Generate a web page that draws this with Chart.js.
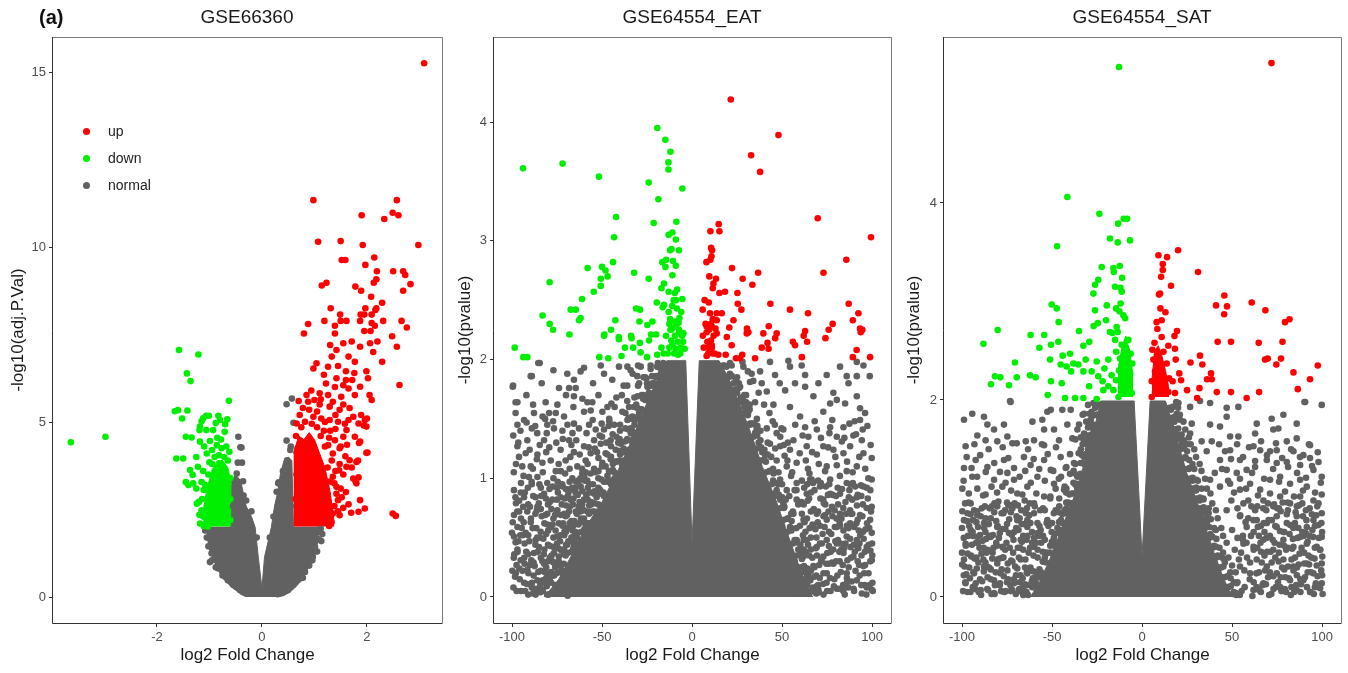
<!DOCTYPE html>
<html><head><meta charset="utf-8">
<script src="https://cdn.jsdelivr.net/npm/chart.js@4.4.1/dist/chart.umd.min.js"></script>
<style>
body{margin:0;background:#fff;width:1348px;height:673px;overflow:hidden;position:relative;font-family:"Liberation Sans",Arial,sans-serif;}
canvas{position:absolute;top:0;}
.ttl{position:absolute;top:6px;font-size:19px;line-height:22px;color:#1a1a1a;transform:translateX(-50%);white-space:nowrap;}
.tag{position:absolute;left:39px;top:5px;font-size:20px;line-height:24px;font-weight:bold;color:#111;}
.ldot{position:absolute;width:7px;height:7px;border-radius:50%;}
.ltxt{position:absolute;font-size:14px;line-height:16px;color:#222;}
</style></head>
<body>
<canvas id="c1" width="447" height="673" style="left:0px"></canvas>
<canvas id="c2" width="449" height="673" style="left:447px"></canvas>
<canvas id="c3" width="452" height="673" style="left:896px"></canvas>
<div class="tag">(a)</div>
<div class="ttl" style="left:247px">GSE66360</div>
<div class="ttl" style="left:692px">GSE64554_EAT</div>
<div class="ttl" style="left:1142px">GSE64554_SAT</div>
<div class="ldot" style="left:82.5px;top:127.5px;background:#ff0000"></div><div class="ltxt" style="left:108px;top:123px">up</div>
<div class="ldot" style="left:82.5px;top:154.5px;background:#00ee00"></div><div class="ltxt" style="left:108px;top:150px">down</div>
<div class="ldot" style="left:82.5px;top:181.5px;background:#616161"></div><div class="ltxt" style="left:108px;top:177px">normal</div>
<script>
// ---------- tick labels ----------
const p1XTicks=[-2,0,2], p1YTicks=[0,5,10,15];
const p23XTicks=[-100,-50,0,50,100];
const p2YTicks=[0,1,2,3,4];
const p3YTicks=[0,2,4];

// ---------- GSE66360 ----------
const p1Up=[[3.09,15.25],[0.98,11.34],[2.57,11.34],[1.90,10.91],[2.49,10.98],[2.60,10.91],[2.33,10.80],[1.07,10.15],[1.50,10.17],[1.92,10.06],[2.98,10.06],[1.52,9.63],[1.59,9.63],[2.14,9.70],[1.97,9.49],[2.19,9.31],[2.50,9.31],[2.69,9.31],[2.73,9.20],[2.18,9.08],[2.13,8.98],[1.14,8.90],[1.23,8.98],[2.83,8.94],[1.78,8.87],[1.89,8.75],[2.69,8.75],[2.08,8.58],[2.29,8.41],[1.31,8.25],[1.97,8.25],[2.18,8.25],[1.49,8.07],[1.88,8.07],[1.95,8.07],[2.09,8.07],[2.16,8.20],[1.19,7.89],[1.50,7.89],[1.61,7.89],[1.87,7.89],[2.09,7.83],[2.15,7.75],[2.31,7.89],[2.66,7.89],[2.76,7.70],[0.80,7.53],[0.88,7.80],[1.39,7.75],[1.39,7.53],[1.95,7.60],[2.07,7.60],[2.48,7.45],[2.57,7.15],[1.55,7.25],[1.71,7.30],[1.87,7.15],[2.06,7.25],[2.20,7.30],[2.12,7.00],[2.29,6.72],[2.62,6.06],[1.42,7.06],[1.33,6.87],[1.65,6.87],[1.77,6.72],[1.04,6.68],[0.98,6.53],[1.26,6.58],[1.45,6.60],[1.60,6.45],[1.76,6.40],[1.99,6.45],[2.02,6.25],[1.42,6.25],[1.60,6.20],[1.87,6.01],[1.65,5.96],[1.39,6.00],[1.10,5.82],[1.26,5.77],[1.51,5.72],[1.77,5.77],[2.05,5.77],[2.09,5.63],[0.85,5.77],[0.88,5.58],[1.00,5.63],[1.10,5.50],[1.29,5.44],[1.35,5.58],[1.48,5.35],[1.67,5.40],[1.74,5.15],[1.89,5.20],[1.96,5.06],[1.99,4.87],[1.84,4.96],[1.65,5.06],[1.45,5.01],[1.29,5.06],[1.13,5.10],[0.98,5.15],[0.82,5.01],[0.66,4.96],[0.72,5.20],[1.61,4.77],[1.77,4.58],[1.87,4.44],[1.99,4.12],[1.55,4.58],[1.39,4.48],[1.26,4.34],[1.48,4.25],[1.67,3.91],[1.80,3.86],[1.61,3.72],[1.48,3.80],[1.74,3.39],[1.80,3.25],[1.87,2.77],[1.96,2.53],[1.84,2.44],[1.70,2.41],[1.48,2.34],[1.35,2.39],[1.28,2.03],[2.49,2.39],[2.55,2.32],[1.35,3.44],[1.42,3.15],[1.45,2.77],[1.78,3.32],[1.84,3.42],[1.71,3.70],[2.01,4.13],[1.83,3.90],[1.59,4.02],[2.00,5.10],[1.94,4.90],[1.85,4.40],[1.10,2.20],[1.15,2.60],[1.22,2.90],[1.30,3.30],[1.25,3.70],[1.33,3.90],[1.20,4.30],[1.12,4.60],[1.05,4.85],[0.95,4.95],[0.75,4.85],[0.65,4.60],[1.38,2.60],[1.42,2.95],[1.50,3.10],[1.55,3.50],[1.40,3.60],[1.35,4.10],[1.50,4.30],[1.20,5.00],[1.05,5.30],[0.90,5.35],[0.78,5.40],[1.40,5.20],[1.55,5.50],[1.18,4.75],[1.28,4.55],[1.40,4.80],[1.60,3.00],[1.65,2.65],[1.55,2.55],[1.25,2.30],[1.20,2.60],[1.32,2.15],[1.45,2.45],[1.52,2.85],[1.38,3.25],[1.47,3.62],[1.30,4.75],[1.62,4.35],[1.58,4.95],[1.12,5.65],[0.94,5.9],[1.22,6.1],[1.55,6.05],[1.72,6.2],[1.3,7.2],[1.18,6.35],[0.7,5.6],[0.68,4.25],[0.66,3.5],[0.64,2.8]];
const p1Down=[[-3.64,4.42],[-2.98,4.58],[-1.58,7.06],[-1.21,6.93],[-1.43,6.39],[-1.36,6.17],[-0.63,5.61],[-1.66,5.31],[-1.60,5.34],[-1.42,5.33],[-1.52,5.10],[-1.12,5.11],[-1.15,5.02],[-1.06,5.18],[-1.01,5.18],[-0.83,5.18],[-0.80,5.06],[-0.66,5.08],[-0.88,4.97],[-0.70,4.94],[-1.18,4.87],[-1.19,4.77],[-1.06,4.77],[-0.93,4.77],[-0.71,4.72],[-1.45,4.58],[-1.34,4.56],[-1.18,4.44],[-0.99,4.46],[-0.86,4.34],[-0.77,4.25],[-1.63,3.96],[-1.50,3.96],[-1.25,4.00],[-1.05,4.10],[-1.37,3.63],[-1.22,3.72],[-1.32,3.49],[-1.45,3.29],[-1.40,3.20],[-1.31,3.25],[-1.15,3.29],[-1.11,3.06],[-1.20,2.72],[-1.24,2.67],[-1.15,2.48],[-1.11,2.03],[-1.03,2.01],[-1.12,2.30],[-1.14,2.80],[-1.08,3.20],[-1.02,3.50],[-0.95,3.80],[-0.90,4.00],[-0.82,4.05],[-0.72,4.00],[-0.65,3.90],[-0.60,3.40],[-0.60,2.80],[-0.60,2.20],[-0.90,3.60],[-0.75,3.70],[-0.68,4.30],[-0.95,4.20],[-1.18,2.10],[-1.05,2.60],[-1.0,3.85],[-0.85,4.55],[-0.62,4.15],[-0.78,4.5],[-1.1,4.3],[-1.12,3.6],[-1.25,3.1],[-1.19,2.35]];
const p1Normal=[[-0.45,4.58],[-0.39,4.27],[-0.46,3.84],[-0.38,3.84],[-0.48,3.53],[-0.45,3.29],[-0.36,3.31],[0.47,5.51],[0.57,5.67],[0.47,4.47],[0.55,4.30],[0.48,3.91],[0.31,3.25],[0.28,3.01],[1.10,1.87],[1.00,1.54],[1.00,1.34],[0.97,1.15],[-0.96,1.25],[-0.80,0.96],[-0.93,1.53],[0.60,4.98],[0.54,4.20],[0.32,3.28],[-0.41,4.28],[-0.30,2.76],[-0.29,2.38],[-0.83,0.82],[1.01,1.44],[1.15,1.80],[0.40,3.60],[0.45,3.20],[0.50,2.90],[0.55,2.60],[-0.50,3.00],[-0.55,2.60],[-0.56,2.20],[-1.05,1.70],[-1.02,1.45],[-0.95,1.05],[-0.88,0.85],[-0.75,0.62],[-0.65,0.48],[-0.55,0.35],[-0.42,0.20],[-0.30,0.10],[0.30,0.08],[0.45,0.18],[0.60,0.35],[0.70,0.50],[0.82,0.72],[0.90,0.90],[0.96,1.05],[1.05,1.30],[1.08,1.65],[1.12,1.95],[-1.08,1.9],[-0.99,1.0],[-0.7,0.58],[-0.5,0.3],[0.5,0.2],[0.78,0.55],[0.93,1.2],[1.13,1.6],[-0.35,2.9],[0.22,2.3],[0.15,1.7],[-0.1,1.7],[-0.2,2.45]];
const p1CoreX=[-1.06,-1.04,-1.0,-0.9,-0.8,-0.7,-0.6,-0.58,-0.5,-0.45,-0.4,-0.36,-0.3,-0.2,-0.13,-0.07,0,0.05,0.12,0.18,0.24,0.3,0.35,0.42,0.5,0.57,0.6,0.7,0.8,0.9,1.0,1.05,1.1];
const p1CoreTop=[2.0,2.0,2.0,2.0,2.0,2.0,2.0,3.3,3.5,3.4,3.3,3.0,2.6,2.3,2.0,1.15,0.25,1.15,1.6,2.0,2.6,3.0,3.5,3.9,4.0,3.9,2.0,2.0,2.0,2.0,2.0,2.0,2.0];
const p1CoreBottom=[1.95,1.6,1.3,0.95,0.65,0.45,0.3,0.28,0.18,0.13,0.06,0.04,0,0,0,0,0,0,0,0,0,0,0,0.03,0.1,0.18,0.22,0.37,0.6,0.85,1.12,1.4,1.95];
const p1UpCoreX=[0.6,0.7,0.8,0.9,1.0,1.1,1.2,1.3,1.38];
const p1UpCoreTop=[4.1,4.6,4.5,4.7,4.5,4.1,3.7,3.0,2.1];
const p1DownCoreX=[-1.12,-1.05,-0.95,-0.85,-0.75,-0.65,-0.58];
const p1DownCoreTop=[2.4,3.1,3.6,3.9,3.9,3.7,3.2];

// ---------- GSE64554_EAT ----------
const eatUp=[[21.5,4.19],[48.0,3.89],[32.8,3.72],[37.8,3.58],[69.8,3.19],[99.4,3.03],[14.8,3.14],[10.2,3.08],[15.2,3.08],[10.6,2.94],[11.1,2.92],[10.8,2.87],[8.0,2.82],[10.2,2.84],[22.2,2.77],[85.7,2.84],[36.7,2.73],[73,2.73],[9.6,2.7],[13.3,2.68],[28.1,2.68],[11.9,2.64],[33.5,2.63],[11.5,2.6],[15.2,2.56],[18.3,2.57],[25.2,2.56],[9.3,2.48],[25.4,2.47],[43.5,2.47],[87,2.47],[27.4,2.42],[5.9,2.42],[54.4,2.42],[10,2.39],[13.7,2.39],[16.5,2.39],[64.4,2.39],[92.4,2.39],[11.5,2.34],[13.7,2.33],[23,2.33],[89.3,2.33],[8.1,2.28],[10.9,2.28],[13,2.26],[20.7,2.27],[30.5,2.26],[42.6,2.28],[78.1,2.3],[93.3,2.26],[94.6,2.25],[47,2.22],[62.8,2.24],[75.9,2.25],[39.6,2.22],[31.3,2.23],[8.1,2.23],[10.5,2.16],[9,2.1],[8.1,2.03],[11.4,2.05],[10.9,2.12],[13.7,2.22],[14.6,2.04],[18.7,2.04],[19.3,2.19],[22,2.12],[24.4,2.01],[26.6,2.01],[27.9,2.04],[30.4,2.22],[35,2.01],[38.7,2.1],[41.9,2.14],[42.5,2.09],[46.2,2.18],[56,2.15],[57.2,2.12],[61,2.02],[62,2.2],[63.9,2.15],[74.1,2.18],[89.3,2.02],[91.4,2.08],[93.7,2.23],[98.9,2.02],[8.5,2.15],[9.5,2.25],[11,2.1],[12,2.2],[9,2.05],[10.5,2.3],[7.5,2.3],[6.5,2.1],[12.5,2.05],[7,2.5],[6,2.2]];
const eatDown=[[-93.9,3.61],[-71.9,3.65],[-51.7,3.54],[-19.3,3.95],[-14.8,3.85],[-12.0,3.75],[-13.1,3.66],[-13.1,3.6],[-24.1,3.49],[-5.4,3.44],[-18.7,3.35],[-42.2,3.2],[-21.3,3.15],[-8.7,3.16],[-43.3,3.03],[-13.0,3.05],[-10.9,3.07],[-9.0,3.01],[-12.2,2.92],[-11.4,2.93],[-7.3,2.92],[-16.5,2.82],[-14.4,2.84],[-10.6,2.83],[-14.8,2.78],[-9.0,2.79],[-43.9,2.82],[-58.0,2.77],[-50.0,2.78],[-48.1,2.75],[-32.2,2.73],[-46.9,2.7],[-50.7,2.68],[-79.1,2.65],[-24.1,2.68],[-10.9,2.71],[-50.7,2.62],[-15.6,2.64],[-17,2.6],[-13,2.57],[-8.3,2.59],[-9.6,2.56],[-54.6,2.57],[-61.1,2.51],[-5.4,2.51],[-10.2,2.5],[-19.6,2.48],[-15.6,2.46],[-67.4,2.42],[-64.6,2.42],[-31.1,2.43],[-28.9,2.42],[-16.3,2.44],[-8.5,2.43],[-83.0,2.37],[-61.9,2.35],[-62.8,2.33],[-79.1,2.3],[-77.2,2.25],[-42.6,2.33],[-29.2,2.32],[-22,2.32],[-24.8,2.29],[-12.2,2.34],[-12.6,2.3],[-9.4,2.32],[-7.5,2.31],[-10.4,2.27],[-7.2,2.25],[-11.5,2.25],[-68.1,2.21],[-45.0,2.25],[-48.7,2.21],[-33.9,2.2],[-20.0,2.21],[-22.8,2.21],[-40.7,2.19],[-4.8,2.22],[-98.5,2.1],[-93.7,2.02],[-91.5,2.02],[-51.5,2.02],[-48.9,2.2],[-46.5,2.01],[-40.6,2.17],[-39.2,2.03],[-37.3,2.1],[-33.6,2.18],[-32.7,2.1],[-29,2.14],[-28.6,2.06],[-23.9,2.16],[-25,2.02],[-19.4,2.04],[-17,2.1],[-15.7,2.05],[-12.6,2.1],[-11.5,2.16],[-9.1,2.09],[-7.8,2.04],[-6.3,2.1],[-4.1,2.09],[-7.4,2.22],[-5,2.15],[-11,2.12],[-9.5,2.2],[-8,2.15],[-6.5,2.05],[-10,2.05],[-12,2.25],[-8.5,2.3],[-7,2.35],[-5.5,2.2],[-13.5,2.05],[-14.5,2.2],[-6,2.4],[-11,2.45],[-9,2.5],[-13,2.4]];
const eatNormalLeft=[
[-84.6,1.97],[-77,1.91],[-69.3,1.88],[-61.9,1.9],[-60,1.93],[-50.7,1.95],[-48.9,1.88],[-40.6,1.94],[-35.9,1.94],[-34.1,1.91],[-28.5,1.94],[-23,1.95],[-19.3,1.94],[-17.4,1.88],[-30.4,1.86],[-44.3,1.83],[-65.6,1.83],[-89.6,1.86],[-83.5,1.8],[-99.4,1.78],[-73.9,1.76],[-68.3,1.76],[-64.6,1.76],[-29.4,1.8],[-24.8,1.77],[-85.4,1.97],[-89,1.86],[-55,1.8],[-38,1.78],[-26,1.85],[-21,1.8],
[-98,1.64],[-98,1.55],[-88.3,1.62],[-87.8,1.55],[-81.3,1.64],[-79.4,1.55],[-74.8,1.62],[-75.7,1.55],[-71.1,1.52],[-65.6,1.69],[-65.9,1.6],[-60.9,1.67],[-58.1,1.64],[-55.4,1.64],[-56.3,1.57],[-60,1.56],[-49.8,1.56],[-44.8,1.63],[-38.7,1.56],[-32.2,1.6],[-33.1,1.52],[-29.4,1.55],[-25.7,1.52],[-23,1.64],[-21.1,1.72],[-99.6,1.77],[-97,1.64],[-92,1.7],[-52,1.7],[-47,1.6],[-42,1.68],[-36,1.65],[-27,1.7],[-70,1.7],[-83,1.52],
[-97,1.45],[-93.3,1.49],[-80.4,1.45],[-76.7,1.42],[-65.6,1.46],[-62.8,1.42],[-57.2,1.45],[-43.3,1.45],[-48.9,1.41],[-53.5,1.41],[-35.9,1.49],[-28.5,1.46],[-97,1.27],[-91.5,1.32],[-82.2,1.32],[-68.3,1.32],[-60,1.27],[-54.4,1.32],[-50.7,1.29],[-45.2,1.32],[-39.6,1.29],[-32.2,1.34],[-86,1.38],[-72,1.4],[-40,1.4],[-34,1.42],[-31,1.3],[-46,1.48],[-89,1.42],[-67,1.28],
[-96.1,1.18],[-92.4,1.21],[-94.3,1.1],[-89.6,1.1],[-90.6,1.01],[-85.9,1.2],[-83.1,1.13],[-85.9,1.01],[-78.5,1.15],[-75.7,1.06],[-73,1.24],[-70.2,1.15],[-65.6,1.22],[-63.7,1.1],[-66.5,1.0],[-59.1,1.15],[-56.3,1.21],[-54.4,1.08],[-48,1.21],[-49.8,1.13],[-42.4,1.24],[-46.1,1.06],[-37.8,1.15],[-35,1.24],[-34.1,1.07],[-30.4,1.18],[-81,1.22],[-68,1.08],[-61,1.04],[-52,1.17],[-44,1.12],[-40,1.04],[-99,1.05],[-77,1.0],
[-80.4,0.96],[-41.5,0.99],[-61.9,0.93],[-71.9,0.93],[-98.9,0.9],[-97.8,0.79],[-93.3,0.84],[-86.9,0.84],[-85.9,0.76],[-82.2,0.87],[-77.6,0.82],[-73,0.84],[-67.4,0.82],[-60,0.82],[-54.4,0.87],[-50.7,0.76],[-47,0.84],[-89,0.95],[-75,0.92],[-65,0.9],[-57,0.95],[-52,0.92],[-45,0.95],[-91,0.78],[-80,0.78],[-70,0.77],[-63,0.76],[-56,0.78],[-95,0.96],[-84,0.92],[-68,0.97],
[-91.5,0.72],[-80.4,0.7],[-74.8,0.73],[-70.2,0.68],[-64.6,0.72],[-57.2,0.7],[-97,0.59],[-98.9,0.51],[-92.4,0.54],[-89.6,0.63],[-84.1,0.55],[-78.5,0.59],[-74.8,0.51],[-69.3,0.58],[-65.6,0.51],[-100,0.54],[-95,0.66],[-87,0.7],[-82,0.62],[-77,0.66],[-72,0.6],[-67,0.64],[-94,0.52],[-86,0.5],[-81,0.53],[-71,0.52],[-96,0.72],[-84,0.74],
[-86.9,0.48],[-97,0.4],[-95.2,0.31],[-87.8,0.37],[-82.2,0.28],[-76.7,0.37],[-73,0.26],[-99,0.33],[-93,0.45],[-91,0.36],[-90,0.27],[-85,0.42],[-84,0.33],[-80,0.44],[-79,0.33],[-75,0.45],[-71,0.4],[-98,0.46],[-93,0.28],[-88,0.29],[-82,0.4],[-77,0.29],[-74,0.34],
[-97.9,0.2],[-91.5,0.23],[-93.3,0.12],[-85.9,0.14],[-79.4,0.2],[-80.7,0.09],[-98.3,0.17],[-95,0.05],[-89,0.08],[-88,0.18],[-84,0.22],[-83,0.06],[-96,0.24],[-91,0.02],[-86,0.04],[-81,0.16]];
const eatNormalLeft2=[[-99.2,0.08],[-97.5,0.27],[-96.4,0.47],[-99.6,0.63],[-98.1,0.84],[-95.7,0.15],[-94.6,0.58],[-93.8,0.76],[-92.7,0.05],[-92.1,0.38],[-91.2,0.92],[-90.4,0.47],[-89.5,0.66],[-88.9,0.12],[-88.2,0.85],[-87.4,0.26],[-86.5,0.58],[-85.7,0.38],[-84.8,0.95],[-84.2,0.11],[-83.5,0.68],[-82.6,0.49],[-81.9,0.21],[-81.2,0.83],[-80.3,0.61],[-79.6,0.02],[-78.8,0.43],[-78.1,0.74],[-77.3,0.93],[-76.6,0.18],[-75.8,0.56],[-75.1,0.82],[-74.3,0.41],[-73.6,0.05],[-72.8,0.69],[-72.1,0.95],[-71.4,0.22],[-70.6,0.83],[-69.8,0.57],[-69.1,0.01],[-68.4,0.72],[-67.6,0.91],[-66.9,0.25],[-66.2,0.78],[-65.4,0.64],[-64.7,0.88],[-63.9,0.5],[-63.2,0.98],[-62.5,0.8],[-61.7,0.66],[-60.9,0.89],[-60.2,0.73],[-59.4,0.98],[-58.7,0.86],[-57.9,0.92],[-57.1,0.62],[-98.7,0.36],[-97.1,0.72],[-95.1,0.88],[-93.2,0.33],[-90.9,0.2],[-89.1,0.97],[-86.9,0.02],[-85.1,0.79],[-83.1,0.3],[-80.8,0.15],[-79.2,0.91],[-77.7,0.3],[-76.1,0.69],[-74.6,0.97],[-73.1,0.52],[-71.7,0.62],[-70.2,0.35],[-68.7,0.47],[-67.2,0.08],[-65.7,0.42],[-64.2,0.2],[-62.8,0.34],[-61.3,0.48],[-59.8,0.57],
[-99.3,1.36],[-97.8,1.12],[-95.3,1.4],[-93.6,1.02],[-91.9,1.47],[-90.2,1.24],[-88.4,1.08],[-87.1,1.44],[-84.6,1.28],[-82.9,1.05],[-80.7,1.38],[-79.3,1.26],[-77.2,1.48],[-75.4,1.3],[-74.1,1.12],[-71.8,1.33],[-70.5,1.04],[-69.2,1.45],[-67.6,1.18],[-64.3,1.32],[-62.4,1.2],[-61.1,1.08],[-58.6,1.38],[-57.4,1.26],[-55.2,1.49],[-52.8,1.22],[-51.3,1.36],[-47.6,1.3],[-46.3,1.44],[-44.1,1.37],[-96.5,1.3],[-86.2,1.16],[-81.6,1.5],[-72.9,1.06],[-66.4,1.38],[-59.9,1.02],[-53.9,1.05],[-50.2,1.46],
[-79,0.15],[-76,0.25],[-74,0.3],[-71,0.36],[-70,0.44],[-67,0.5],[-65,0.55],[-63,0.62],[-60,0.66],[-58,0.72],[-56,0.8],[-53,0.84],[-51,0.9],[-49,0.97],[-47,1.02],[-44,1.07],[-42,1.14],[-40,1.2],[-38,1.25],[-36,1.33],[-34,1.38],[-32,1.45],[-30,1.52],[-28,1.58],[-26,1.66],[-24,1.72],[-22,1.8],[-20,1.86],[-18,1.93],[-16,1.97],[-62,0.72],[-55,0.88],[-48,1.1],[-41,1.3],[-35,1.5],[-28,1.7],[-66,0.6],[-58,0.82],[-52,1.0],[-45,1.18],[-37,1.42],[-31,1.62],[-25,1.8],
[-83,0.05],[-81,0.25],[-78,0.35],[-76,0.1],[-73,0.4],[-72,0.2],[-70,0.55],[-68,0.62],[-66,0.4],[-64,0.7],[-61,0.78],[-59,0.6],[-57,0.88],[-55,0.95],[-54,0.72],[-52,1.06],[-50,1.1],[-49,0.85],[-47,1.2],[-45,1.27],[-43,1.0],[-42,1.35],[-40,1.45],[-39,1.12],[-37,1.55],[-35,1.6],[-33,1.3],[-32,1.68],[-30,1.78],[-29,1.42],[-27,1.85],[-25,1.55],[-23,1.92],[-21,1.65],[-19,1.97],[-17,1.78],[-80,0.3],[-77,0.5],[-74,0.62],[-71,0.7],[-69,0.85],[-65,0.92],[-62,1.0],[-58,1.12],[-54,1.25],[-50,1.35],[-46,1.5],[-43,1.6],[-39,1.7],[-36,1.78],[-33,1.88],[-30,1.95]];
const eatNormalLeft3=[[-99.8,0.22],[-98.9,0.69],[-97.4,0.05],[-96.9,0.38],[-96.0,0.81],[-95.4,0.52],[-94.2,0.22],[-93.5,0.63],[-92.9,0.88],[-91.7,0.11],[-91.0,0.52],[-90.0,0.76],[-89.3,0.31],[-88.6,0.58],[-87.7,0.07],[-87.0,0.44],[-86.2,0.73],[-85.4,0.21],[-84.5,0.5],[-83.8,0.85],[-82.9,0.14],[-82.3,0.36],[-81.5,0.69],[-80.5,0.02],[-79.9,0.56],[-79.0,0.8],[-78.4,0.21],[-77.5,0.61],[-76.9,0.42],[-75.9,0.03],[-75.4,0.7],[-74.5,0.88],[-73.8,0.21],[-73.3,0.47],[-72.4,0.78],[-71.6,0.1],[-70.9,0.55],[-70.1,0.91],[-69.4,0.69],[-68.6,0.88],[-67.9,0.76],[-66.6,0.92],[-65.9,0.83],[-64.4,0.97],[-63.5,0.86],[-62.1,0.93],[-61.4,0.99],[-59.1,1.05],[-58.2,0.98],[-56.4,1.04],
[-84.2,0.04],[-86.1,0.07],[-88.3,0.03],[-78.2,0.12],[-81.1,0.13],[-84.1,0.11],[-75.3,0.2],[-78.4,0.19],[-71.2,0.28],[-73.1,0.27],[-76.2,0.29],[-67.1,0.38],[-69.2,0.37],[-72.3,0.39],[-64.2,0.45],[-66.1,0.46],[-69.3,0.44],[-61.3,0.55],[-63.2,0.54],[-66.4,0.56],[-58.1,0.62],[-60.2,0.63],[-63.1,0.61],[-55.3,0.72],[-57.2,0.71],[-60.4,0.73],[-52.1,0.78],[-54.3,0.79],[-57.1,0.77],[-49.2,0.88],[-51.3,0.87],[-54.2,0.89],[-45.1,0.98],[-47.2,0.97],[-50.3,0.99],[-43.2,1.05],[-45.3,1.06],[-40.1,1.15],[-42.3,1.14],[-45.2,1.16],[-38.1,1.22],[-40.2,1.23],[-35.1,1.32],[-37.3,1.31],[-40.2,1.33],[-33.2,1.4],[-35.3,1.41],[-30.1,1.5],[-32.2,1.49],[-35.2,1.51],[-28.3,1.58],[-30.2,1.59],[-25.1,1.68],[-27.2,1.67],[-30.3,1.69],[-22.2,1.78],[-24.3,1.77],[-20.1,1.85],[-22.2,1.86],[-25.3,1.84],[-17.2,1.93],[-19.1,1.94]];
const eatNormalRight=[
[21.1,1.97],[28.5,1.94],[33.1,1.88],[37.8,1.9],[43.3,1.98],[46.1,1.87],[53.5,1.99],[54.4,1.94],[60.9,1.95],[62.8,1.87],[70.2,1.8],[74.8,1.87],[82.2,1.94],[85.9,1.86],[86.9,1.8],[91.5,1.86],[95.2,1.95],[98.7,1.86],[91.5,1.98],[26.7,1.77],[32.2,1.81],[38.7,1.8],[41.5,1.73],[48.7,1.8],[51.7,1.74],[57.2,1.8],[62.8,1.77],[67.4,1.69],[78.5,1.72],[80.4,1.66],[91.5,1.69],[85,1.63],[22,1.72],[27.6,1.64],[35,1.64],[45.2,1.62],[54.4,1.6],[60,1.52],[72.9,1.56],[76.7,1.63],[93.3,1.59],[96.1,1.55],[93.3,1.49],
[32.2,1.46],[35.9,1.41],[41.5,1.42],[47,1.38],[50.7,1.41],[56.3,1.32],[62.8,1.43],[64.6,1.35],[69.3,1.41],[76.7,1.43],[80.4,1.35],[84.1,1.43],[89.6,1.36],[94.3,1.32],[99.8,1.17],[95.2,1.21],[87.8,1.27],[84.1,1.21],[78.5,1.24],[72.9,1.27],[69.3,1.2],[63.7,1.27],[54.4,1.24],[48.9,1.27],[43.3,1.29],[40.6,1.2],[47,1.15],[52.6,1.1],[58.1,1.13],[64.4,1.08],[74.8,1.1],[80.4,1.11],[85.9,1.06],[91.5,1.1],[35.9,1.1],[32.2,1.24],[30.4,1.32],
[99.8,0.99],[95.2,0.93],[90.6,0.93],[91.5,0.84],[85.9,0.96],[82.2,0.87],[76.7,0.99],[76.7,0.87],[71.1,0.93],[72.9,0.82],[65.6,0.99],[63.7,0.87],[58.1,0.96],[58.1,0.82],[52.6,0.9],[48.9,0.99],[45.2,0.87],[50.7,0.79],[99.8,0.76],[98.9,0.65],[93.3,0.69],[87.8,0.73],[87.8,0.62],[82.2,0.7],[80.4,0.59],[74.8,0.65],[69.3,0.7],[67.4,0.59],[61.9,0.65],[56.3,0.7],[54.4,0.59],
[99.8,0.54],[97,0.42],[99.8,0.31],[95.2,0.26],[99.8,0.06],[91.5,0.48],[89.6,0.34],[91.5,0.14],[85.9,0.51],[84.1,0.37],[85.9,0.2],[80.4,0.45],[78.5,0.28],[80.4,0.07],[74.8,0.48],[72.9,0.34],[74.8,0.2],[69.3,0.42],[67.4,0.26],[69.3,0.09],[63.7,0.48],[61.9,0.34],[63.7,0.17],[60,0.03],[58.1,0.48],[56.3,0.31],[100.4,0.05],[63.7,0.03],
[70,0.1],[72,0.3],[75,0.05],[77,0.38],[79,0.15],[82,0.3],[84,0.05],[87,0.25],[88,0.42],[92,0.3],[94,0.1],[96,0.38],[98,0.2],[100,0.45],[66,0.5],[71,0.45],[73,0.2],[81,0.48],[86,0.12],[90,0.05],[93,0.45],[97,0.08],[99,0.3],[76,0.28],[83,0.4],[69,0.18],
[62,0.78],[66,0.72],[68,0.9],[71,0.6],[74,0.78],[78,0.68],[80,0.85],[84,0.75],[86,0.6],[89,0.82],[92,0.65],[95,0.55],[97,0.75],[99,0.9],[70,0.98],[76,0.55],[82,0.62],[88,0.95],[94,0.85],[64,0.95],[58,0.9],[73,0.68],
[18,1.95],[21,1.88],[23,1.8],[25,1.72],[27,1.68],[29,1.6],[31,1.53],[33,1.46],[35,1.38],[37,1.3],[39,1.22],[41,1.14],[43,1.06],[45,0.98],[47,0.9],[49,0.82],[51,0.75],[53,0.66],[55,0.58],[57,0.48],[59,0.4],[61,0.32],[63,0.24],[65,0.15],[67,0.08],[26,1.8],[32,1.62],[38,1.4],[44,1.18],[50,0.95],[56,0.72],[62,0.48],[68,0.25],[30,1.7],[36,1.5],[42,1.3],[48,1.05],[54,0.85],[60,0.6],[66,0.4]];
const eatNormalRight2=[[100.2,0.12],[99.1,0.39],[98.4,0.58],[97.6,0.83],[96.8,0.02],[96.1,0.27],[95.3,0.49],[94.6,0.68],[93.8,0.94],[93.1,0.18],[92.3,0.41],[91.6,0.77],[90.8,0.22],[90.1,0.59],[89.3,0.96],[88.6,0.13],[87.8,0.49],[87.1,0.84],[86.3,0.31],[85.6,0.7],[84.8,0.02],[84.1,0.56],[83.3,0.91],[82.6,0.21],[81.8,0.38],[81.1,0.78],[80.3,0.66],[79.6,0.47],[78.8,0.09],[78.1,0.86],[77.3,0.53],[76.6,0.16],[75.8,0.72],[75.1,0.37],[74.3,0.93],[73.6,0.59],[72.8,0.11],[72.1,0.45],[71.3,0.83],[70.6,0.27],[69.8,0.63],[69.1,0.5],[68.3,0.04],[67.6,0.74],[66.8,0.33],[66.1,0.88],[65.3,0.58],[64.6,0.2],[63.8,0.66],[63.1,0.38],[62.3,0.92],[61.6,0.52],[60.8,0.8],[97.2,0.62],[95.8,0.1],[94.1,0.35],[92.6,0.56],[89.8,0.44],[88.1,0.7],[86.7,0.08],[85.2,0.45],[83.7,0.27],[82.1,0.6],[80.7,0.18],[79.2,0.73],[77.8,0.29],[76.2,0.95],[74.7,0.12],[73.2,0.79],[71.7,0.31],[70.2,0.06],[68.7,0.41],[67.2,0.96],[65.7,0.14],[64.2,0.81],[62.7,0.21],
[99.2,1.28],[97.4,1.44],[96.2,1.08],[94.8,1.41],[92.9,1.18],[91.1,1.37],[89.2,1.05],[87.4,1.46],[86.1,1.14],[83.2,1.31],[82.1,1.02],[79.6,1.18],[77.9,1.49],[75.6,1.26],[73.9,1.06],[71.6,1.34],[70.4,1.12],[68.1,1.48],[66.7,1.22],[65.2,1.04],[61.4,1.36],[59.8,1.21],[57.3,1.45],[55.6,1.05],[53.2,1.3],[51.4,1.19],[49.7,1.42],[46.2,1.25],[44.8,1.48],[97.9,1.0],[90.3,1.48],[84.6,1.34],[76.3,1.38],[63.2,1.15],
[69,0.03],[66,0.22],[64,0.1],[62,0.4],[60,0.2],[58,0.58],[57,0.3],[55,0.7],[53,0.45],[52,0.82],[50,0.6],[48,0.95],[47,0.7],[45,1.08],[43,0.82],[42,1.2],[40,0.95],[38,1.32],[37,1.05],[35,1.45],[34,1.18],[32,1.58],[30,1.35],[29,1.7],[27,1.48],[25,1.85],[24,1.6],[22,1.95],[20,1.78],[65,0.35],[63,0.55],[61,0.7],[59,0.78],[57,0.9],[55,1.02],[53,1.15],[51,1.28],[49,1.35],[46,1.45],[43,1.55],[40,1.62],[37,1.72],[34,1.82],[31,1.9],[28,1.98]];
const eatNormalRight3=[[100.1,0.35],[99.4,0.72],[98.6,0.1],[98.1,0.44],[97.1,0.92],[96.4,0.57],[95.6,0.2],[94.9,0.78],[94.3,0.03],[93.4,0.52],[92.8,0.27],[92.0,0.86],[91.3,0.62],[90.4,0.38],[89.7,0.07],[89.0,0.7],[88.3,0.33],[87.4,0.9],[86.9,0.58],[86.0,0.16],[85.2,0.8],[84.5,0.41],[83.9,0.1],[83.0,0.66],[82.4,0.45],[81.5,0.07],[80.9,0.92],[80.0,0.3],[79.3,0.59],[78.4,0.4],[77.7,0.76],[76.9,0.05],[76.0,0.43],[75.5,0.86],[74.6,0.28],[73.9,0.69],[73.0,0.02],[72.5,0.53],[71.5,0.96],[70.9,0.16],[70.0,0.72],[69.4,0.35],[68.5,0.57],[67.9,0.17],[66.9,0.61],[66.4,0.99],[65.0,0.83],[64.4,0.44],[62.5,0.63],[61.0,0.98],
[17.2,1.95],[19.1,1.94],[20.2,1.85],[22.1,1.86],[24.3,1.84],[24.2,1.75],[26.1,1.76],[26.3,1.65],[28.2,1.66],[30.1,1.64],[29.2,1.55],[31.3,1.56],[32.1,1.45],[34.2,1.46],[36.3,1.44],[34.1,1.35],[36.2,1.36],[36.1,1.25],[38.3,1.26],[40.2,1.24],[38.2,1.15],[40.1,1.16],[41.2,1.05],[43.1,1.06],[45.3,1.04],[44.2,0.95],[46.1,0.96],[46.3,0.85],[48.2,0.86],[50.1,0.84],[49.2,0.75],[51.3,0.76],[51.1,0.65],[53.2,0.66],[55.3,0.64],[53.1,0.55],[55.2,0.56],[56.1,0.45],[58.3,0.46],[60.2,0.44],[58.2,0.35],[60.1,0.36],[60.3,0.25],[62.2,0.26],[64.1,0.24],[63.2,0.15],[65.1,0.16],[66.2,0.05],[68.1,0.06],[70.3,0.04]];
const eatCoreX=[-82,-74,-68,-62,-56,-50,-45,-40,-35,-30,-26,-22,-18,-14,-3.5,0,4,15,19,23,27,31,35,39,43,47,51,55,59,63,67];
const eatCoreTop=[0,0.15,0.32,0.5,0.66,0.8,0.95,1.1,1.27,1.45,1.6,1.74,1.87,1.99,1.99,0.45,1.99,1.99,1.88,1.75,1.6,1.45,1.28,1.1,0.95,0.8,0.62,0.45,0.28,0.12,0];

// ---------- GSE64554_SAT ----------
const satUp=[[71.9,5.42],[20,3.52],[9.1,3.47],[13.9,3.45],[11.5,3.38],[11.5,3.32],[10.6,3.25],[31.1,3.3],[16.1,3.16],[10,3.08],[9.4,3.07],[45.7,3.06],[41.1,2.96],[47.2,2.95],[45.6,2.87],[60.9,2.99],[68.5,2.91],[10.2,2.93],[13,2.89],[10.9,2.81],[8.1,2.79],[8.5,2.72],[19.4,2.7],[18,2.65],[10.9,2.64],[79.4,2.79],[81.9,2.82],[6.9,2.58],[5.7,2.51],[8.3,2.46],[11.9,2.49],[14.6,2.55],[18.3,2.52],[6.3,2.41],[10,2.37],[13.7,2.37],[7.2,2.29],[10.9,2.25],[15,2.22],[5.4,2.19],[9.1,2.17],[12.8,2.15],[17,2.19],[18.7,2.41],[20.7,2.27],[21.7,2.2],[7.2,2.08],[10.9,2.07],[14.6,2.08],[18.3,2.07],[5.4,2.03],[25,2.1],[26.9,2.38],[30.6,2.02],[31.9,2.12],[32.2,2.45],[33.5,2.36],[36.1,2.21],[38.3,2.27],[38.7,2.21],[41.5,2.08],[42,2.59],[49.4,2.59],[49.4,2.08],[58.1,2.02],[64.8,2.58],[65,2.08],[68.3,2.41],[69.8,2.42],[74.6,2.36],[77.2,2.42],[78,2.59],[84.1,2.28],[86.5,2.11],[93.3,2.21],[97.6,2.35]];
const satDown=[[-12.8,5.38],[-41.5,4.06],[-23.7,3.89],[-13.3,3.79],[-10.2,3.84],[-8.3,3.84],[-17.8,3.64],[-13.5,3.6],[-6.7,3.62],[-47.2,3.56],[-22.4,3.35],[-15.9,3.34],[-15.7,3.3],[-12.4,3.36],[-11.1,3.24],[-24.3,3.22],[-26.1,3.17],[-27,3.08],[-15,3.15],[-12,3.14],[-11.3,3.1],[-50.2,2.97],[-47.4,2.93],[-26.1,2.91],[-19.6,2.96],[-11.9,2.98],[-14.4,2.93],[-12.6,2.9],[-10.4,2.86],[-9.4,2.83],[-46.3,2.79],[-20,2.81],[-26.9,2.75],[-24.6,2.78],[-14.1,2.74],[-80.2,2.71],[-61.9,2.66],[-54.3,2.66],[-35,2.7],[-17.8,2.69],[-13.5,2.69],[-88.1,2.57],[-83.9,2.16],[-81.7,2.24],[-78.7,2.23],[-73.9,2.15],[-70.6,2.38],[-69.6,2.23],[-62.2,2.25],[-59.1,2.23],[-57,2.53],[-51.1,2.41],[-50.6,2.56],[-46.5,2.59],[-52.4,2.05],[-50.6,2.19],[-44.6,2.17],[-44.1,2.45],[-42.8,2.02],[-41.9,2.34],[-39.4,2.29],[-37.2,2.02],[-35.4,2.36],[-32.6,2.02],[-32.6,2.55],[-31.3,2.41],[-32.6,2.29],[-29.3,2.59],[-28,2.29],[-29.4,2.14],[-25.2,2.39],[-25.2,2.01],[-24.3,2.24],[-21.5,2.1],[-20.9,2.32],[-18.7,2.14],[-18.7,2.41],[-16.5,2.68],[-16.9,2.25],[-15.9,2.1],[-14.4,2.49],[-14.4,2.2],[-12.8,2.3],[-11.3,2.56],[-11.3,2.07],[-9.4,2.37],[-8.5,2.17],[-7.6,2.61],[-6.3,2.47],[-6.7,2.27],[-5.7,2.07],[-5.4,2.37],[-9.4,2.08],[-13.1,2.03],[-10.4,2.12],[-12.2,2.42],[-15,2.61],[-8.5,2.51],[-9.8,2.24],[-7.6,2.12],[-21.9,2.19],[-38.1,2.37],[-45.2,2.36],[-40,2.47]];
const satNormalLeft=[
[-73,1.98],[-94.3,1.86],[-98.9,1.8],[-87.8,1.83],[-85.9,1.75],[-82.2,1.7],[-76.7,1.75],[-91.5,1.64],[-86.9,1.59],[-80.4,1.58],[-74.8,1.63],[-72,1.56],[-60.9,1.78],[-55.4,1.8],[-52.6,1.88],[-50.7,1.9],[-44.3,1.9],[-39.6,1.9],[-32.2,1.86],[-28.5,1.8],[-54.4,1.7],[-48.9,1.7],[-41.5,1.75],[-35.9,1.7],[-64.6,1.58],[-60,1.59],[-54.4,1.54],[-46.1,1.59],[-38.7,1.61],[-32.2,1.59],[-28.5,1.64],[-24.8,1.73],[-21.1,1.88],[-23,1.8],[-73.3,1.99],
[-98,1.53],[-92.4,1.39],[-98.9,1.31],[-94.3,1.22],[-99.8,1.1],[-91.5,1.1],[-85.9,1.32],[-82.2,1.19],[-86.9,1.04],[-76.7,1.39],[-74.8,1.26],[-77.6,1.12],[-71.1,1.19],[-69.3,1.05],[-65.6,1.42],[-61.9,1.34],[-58.1,1.22],[-63.7,1.12],[-54.4,1.39],[-50.7,1.29],[-48.9,1.15],[-45.2,1.42],[-42.4,1.31],[-43.3,1.09],[-37.8,1.36],[-35.9,1.22],[-32.2,1.42],[-28.5,1.32],[-54.4,1.02],[-60,0.95],[-73,0.93],[-80.4,0.92],[-95.2,0.95],[-91.5,0.87],
[-98.9,0.78],[-95.2,0.68],[-98,0.54],[-91.5,0.61],[-87.8,0.75],[-84.1,0.61],[-80.4,0.71],[-85.9,0.48],[-77.6,0.51],[-73.9,0.65],[-69.3,0.78],[-67.4,0.58],[-63.7,0.71],[-60,0.51],[-56.3,0.68],[-52.6,0.78],[-98.9,0.38],[-93.3,0.24],[-98,0.14],[-87.8,0.31],[-82.2,0.17],[-89.6,0.07],[-80.4,0.38],[-74.8,0.27],[-71.1,0.14],[-67.4,0.38],[-63.7,0.24],[-82.2,0.04],
[-100,0.45],[-96,0.3],[-94,0.1],[-92,0.4],[-90,0.18],[-88,0.5],[-86,0.08],[-85,0.3],[-83,0.45],[-79,0.12],[-78,0.28],[-76,0.48],[-73,0.06],[-72,0.36],[-70,0.22],[-69,0.5],[-66,0.1],[-65,0.3],[-63,0.45],[-61,0.55],[-97,0.05],[-99,0.22],[-91,0.55],[-84,0.18],[-75,0.15],[-68,0.15],[-81,0.55],[-95,0.42],[-87,0.35],[-77,0.4],
[-100,0.7],[-97,0.85],[-94,0.62],[-92,0.76],[-89,0.9],[-87,0.66],[-84,0.8],[-82,0.95],[-79,0.65],[-77,0.85],[-75,0.74],[-72,0.9],[-71,0.66],[-68,0.8],[-66,0.62],[-64,0.9],[-62,0.75],[-60,0.85],[-58,0.65],[-55,0.9],[-53,0.75],
[-61,0.1],[-59,0.2],[-57,0.28],[-55,0.36],[-53,0.45],[-51,0.52],[-49,0.6],[-47,0.7],[-45,0.78],[-43,0.88],[-41,0.96],[-39,1.05],[-37,1.14],[-35,1.24],[-33,1.36],[-31,1.45],[-29,1.6],[-27,1.7],[-25,1.85],[-24,1.95],[-58,0.4],[-54,0.58],[-50,0.75],[-46,0.92],[-42,1.1],[-38,1.28],[-34,1.5],[-30,1.72],[-64,0.25],[-56,0.55],[-48,0.88]];
const satNormalLeft2=[[-99.4,0.06],[-98.6,0.31],[-97.9,0.52],[-97.1,0.77],[-96.3,0.96],[-95.6,0.19],[-94.8,0.41],[-94.1,0.66],[-93.3,0.88],[-92.6,0.08],[-91.8,0.29],[-91.1,0.71],[-90.3,0.5],[-89.6,0.82],[-88.8,0.16],[-88.1,0.38],[-87.3,0.92],[-86.6,0.59],[-85.8,0.2],[-85.1,0.74],[-84.3,0.47],[-83.6,0.03],[-82.8,0.63],[-82.1,0.86],[-81.3,0.25],[-80.6,0.52],[-79.8,0.97],[-79.1,0.39],[-78.3,0.06],[-77.6,0.69],[-76.8,0.21],[-76.1,0.88],[-75.3,0.55],[-74.6,0.34],[-73.8,0.79],[-73.1,0.12],[-72.3,0.63],[-71.6,0.45],[-70.8,0.95],[-70.1,0.03],[-69.3,0.29],[-68.6,0.68],[-67.8,0.5],[-67.1,0.88],[-66.3,0.19],[-65.6,0.74],[-64.8,0.38],[-64.1,0.58],[-63.3,0.02],[-62.6,0.83],[-61.8,0.27],[-61.1,0.66],[-60.3,0.42],[-59.6,0.92],[-58.8,0.55],[-58.1,0.75],[-57.3,0.62],[-56.6,0.88],[-99.8,0.87],[-98.2,0.15],[-96.7,0.62],[-95.2,0.84],[-93.7,0.25],[-92.2,0.55],[-90.7,0.05],[-89.2,0.44],[-87.7,0.7],[-86.2,0.31],[-84.7,0.9],[-83.2,0.39],[-81.7,0.12],[-80.2,0.72],[-78.7,0.24],[-77.2,0.5],[-75.7,0.06],[-74.2,0.93],[-72.7,0.37],[-71.2,0.18],[-69.7,0.82],[-68.2,0.08],[-66.7,0.56],[-65.2,0.98],[-63.7,0.78],[-62.2,0.5],[-60.7,0.19],
[-99.1,1.18],[-97.4,1.42],[-96.2,1.05],[-94.7,1.31],[-93.1,1.55],[-91.6,1.22],[-89.9,1.44],[-88.3,1.03],[-86.8,1.27],[-85.2,1.5],[-83.6,1.12],[-82.1,1.36],[-80.5,1.06],[-78.9,1.27],[-77.4,1.52],[-75.8,1.16],[-74.3,1.41],[-72.7,1.08],[-71.1,1.31],[-69.6,1.56],[-68,1.22],[-66.5,1.04],[-64.9,1.28],[-63.3,1.5],[-61.8,1.16],[-60.2,1.4],[-58.7,1.05],[-57.1,1.3],[-55.6,1.55],[-54,1.18],[-52.4,1.45],[-50.9,1.02],[-49.3,1.28],[-47.8,1.52],[-46.2,1.2],
[-66,0.02],[-64,0.12],[-62,0.3],[-60,0.1],[-58,0.48],[-57,0.2],[-55,0.62],[-54,0.4],[-52,0.72],[-51,0.3],[-49,0.85],[-48,0.5],[-46,1.0],[-45,0.68],[-43,1.12],[-42,0.9],[-40,1.25],[-39,0.95],[-37,1.35],[-36,1.1],[-34,1.62],[-33,1.55],[-31,1.78],[-30,1.5],[-28,1.88],[-27,1.97],[-26,1.92],[-60,0.6],[-57,0.72],[-54,0.88],[-51,1.0],[-48,1.1],[-45,1.22],[-42,1.32],[-40,1.45],[-37,1.6],[-35,1.75],[-33,1.85],[-30,1.95]];
const satNormalLeft3=[[-99.9,0.33],[-99.0,0.6],[-98.3,0.95],[-97.6,0.23],[-96.9,0.44],[-96.0,0.72],[-95.3,0.05],[-94.5,0.53],[-93.9,0.78],[-93.0,0.39],[-92.4,0.14],[-91.5,0.83],[-90.9,0.35],[-90.0,0.63],[-89.4,0.02],[-88.5,0.57],[-87.9,0.26],[-87.0,0.8],[-86.4,0.45],[-85.5,0.07],[-84.9,0.62],[-84.0,0.28],[-83.4,0.92],[-82.5,0.5],[-81.9,0.03],[-81.0,0.77],[-80.4,0.34],[-79.5,0.6],[-78.9,0.14],[-78.0,0.85],[-77.4,0.4],[-76.5,0.05],[-75.9,0.69],[-75.0,0.96],[-74.4,0.18],[-73.5,0.5],[-72.9,0.86],[-72.0,0.07],[-71.4,0.58],[-70.5,0.31],[-69.9,0.7],[-69.0,0.93],[-68.4,0.4],[-67.5,0.22],[-66.9,0.74],[-66.0,0.48],[-65.1,0.13],[-64.5,0.85],[-63.6,0.62],[-62.4,0.95],
[-64.2,0.05],[-66.1,0.04],[-68.3,0.06],[-59.1,0.15],[-61.2,0.16],[-56.1,0.25],[-58.2,0.24],[-60.3,0.26],[-53.2,0.35],[-55.1,0.36],[-51.1,0.45],[-53.3,0.44],[-55.2,0.46],[-48.2,0.55],[-50.1,0.56],[-46.1,0.65],[-48.3,0.64],[-50.2,0.66],[-44.2,0.75],[-46.1,0.76],[-42.1,0.85],[-44.3,0.84],[-46.2,0.86],[-40.2,0.95],[-42.1,0.96],[-38.1,1.05],[-40.3,1.04],[-42.2,1.06],[-36.2,1.15],[-38.1,1.16],[-34.1,1.25],[-36.3,1.24],[-38.2,1.26],[-32.2,1.35],[-34.1,1.36],[-31.1,1.45],[-33.3,1.44],[-35.2,1.46],[-30.2,1.55],[-32.1,1.56],[-28.1,1.65],[-30.3,1.64],[-32.2,1.66],[-27.2,1.75],[-29.1,1.76],[-25.1,1.85],[-27.3,1.84],[-29.2,1.86],[-24.2,1.95],[-26.1,1.96]];
const satNormalRight=[
[20.2,1.97],[26.7,1.93],[32.2,1.99],[37.8,1.97],[47,1.92],[53.5,1.93],[63.7,1.76],[72,1.81],[78.5,1.85],[85.9,1.76],[90.6,1.98],[99.8,1.95],[19.3,1.86],[27.6,1.76],[37.8,1.75],[43.3,1.73],[47,1.83],[62.8,1.66],[72.9,1.7],[75.7,1.71],[80.4,1.58],[85.9,1.61],[93.3,1.54],[26.7,1.66],[33.1,1.58],[38.7,1.58],[48.9,1.63],[53.5,1.63],[23,1.58],[90.2,1.98],
[35.9,1.48],[43.3,1.39],[48.9,1.49],[54.4,1.39],[61.9,1.53],[65.6,1.49],[71.1,1.48],[74.8,1.49],[84.1,1.48],[89.6,1.44],[93.3,1.41],[98,1.37],[87.8,1.34],[99.8,1.22],[95.2,1.29],[80.4,1.37],[74.8,1.36],[69.3,1.39],[62.8,1.32],[58.1,1.29],[52.6,1.26],[47,1.29],[40.4,1.26],[37.8,1.19],[43.3,1.12],[48.9,1.15],[54.4,1.09],[60,1.15],[65.6,1.09],[71.1,1.19],[76.7,1.22],[82.2,1.15],[87.8,1.19],[91.5,1.12],[99.8,1.04],[95.2,0.98],[87.8,1.02],[82.2,0.95],[76.7,1.02],[72.9,0.92],[67.4,0.98],[60.7,0.92],[56.3,0.95],[49.6,0.98],[47,0.88],
[99.8,0.85],[95.2,0.78],[91.5,0.71],[85.9,0.82],[80.4,0.75],[74.8,0.82],[69.3,0.75],[63.7,0.78],[58.1,0.71],[54.4,0.82],[99.8,0.61],[97,0.51],[91.5,0.54],[87.8,0.61],[84.1,0.51],[78.5,0.58],[72.9,0.48],[67.4,0.58],[61.9,0.51],[56.3,0.54],[99.8,0.34],[95.2,0.24],[99.8,0.14],[91.5,0.34],[89.6,0.17],[93.3,0.05],[84.1,0.31],[82.2,0.17],[85.9,0.07],[78.5,0.38],[74.8,0.24],[76.7,0.1],[69.3,0.31],[67.4,0.14],[63.7,0.38],[60,0.24],[61.9,0.07],[54.4,0.31],[52.6,0.14],
[52,0.25],[55,0.45],[57,0.1],[58,0.55],[60,0.35],[62,0.15],[64,0.5],[65,0.25],[66,0.05],[68,0.42],[70,0.2],[72,0.35],[73,0.08],[76,0.45],[77,0.2],[79,0.28],[81,0.5],[83,0.1],[85,0.4],[86,0.22],[88,0.05],[90,0.45],[92,0.25],[94,0.4],[96,0.1],[97,0.32],[99,0.48],[100,0.22],[87,0.33],[80,0.05],
[50,0.68],[53,0.9],[56,0.62],[59,0.8],[62,0.66],[64,0.92],[66,0.72],[69,0.88],[71,0.62],[74,0.72],[76,0.9],[79,0.66],[81,0.88],[84,0.7],[86,0.92],[89,0.66],[91,0.88],[93,0.62],[96,0.72],[98,0.95],[100,0.66],
[16,1.9],[18,1.78],[20,1.65],[22,1.55],[24,1.42],[26,1.3],[28,1.18],[30,1.08],[32,0.98],[34,0.86],[36,0.75],[38,0.64],[40,0.52],[42,0.42],[44,0.3],[46,0.2],[48,0.1],[51,0.05],[21,1.8],[25,1.55],[29,1.3],[33,1.1],[37,0.9],[41,0.68],[45,0.45],[49,0.25],[53,0.15]];
const satNormalRight2=[[100.3,0.03],[99.5,0.27],[98.8,0.48],[98,0.73],[97.3,0.92],[96.5,0.14],[95.8,0.39],[95,0.61],[94.3,0.84],[93.5,0.05],[92.8,0.33],[92,0.56],[91.3,0.78],[90.5,0.2],[89.8,0.62],[89,0.95],[88.3,0.13],[87.5,0.44],[86.8,0.7],[86,0.3],[85.3,0.86],[84.5,0.05],[83.8,0.59],[83,0.38],[82.3,0.73],[81.5,0.19],[80.8,0.96],[80,0.48],[79.3,0.08],[78.5,0.66],[77.8,0.3],[77,0.87],[76.3,0.53],[75.5,0.15],[74.8,0.71],[74,0.4],[73.3,0.94],[72.5,0.58],[71.8,0.03],[71,0.25],[70.3,0.78],[69.5,0.46],[68.8,0.13],[68,0.66],[67.3,0.9],[66.5,0.35],[65.8,0.55],[65,0.07],[64.3,0.71],[63.5,0.24],[62.8,0.88],[62,0.48],[61.3,0.01],[60.5,0.62],[59.8,0.18],[59,0.98],[58.3,0.4],[57.5,0.76],[56.8,0.27],[56,0.58],[55.3,0.06],[54.5,0.83],[53.8,0.38],[53,0.6],[52.3,0.02],[51.5,0.48],
[99.3,1.16],[97.6,1.47],[96.1,1.06],[94.4,1.33],[92.7,1.55],[91.1,1.21],[89.4,1.08],[87.7,1.42],[86.1,1.26],[84.4,1.02],[82.8,1.5],[81.1,1.32],[79.4,1.07],[77.8,1.41],[76.1,1.17],[74.4,1.56],[72.8,1.3],[71.1,1.05],[69.4,1.44],[67.8,1.2],[66.1,1.58],[64.4,1.03],[62.8,1.38],[61.1,1.26],[59.4,1.52],[57.8,1.1],[56.1,1.42],[54.4,1.2],[52.8,1.55],[51.1,1.06],[49.4,1.4],[47.8,1.18],[46.1,1.48],[44.4,1.3],[42.8,1.55],
[53,0.03],[51,0.15],[50,0.32],[48,0.4],[47,0.55],[45,0.62],[44,0.7],[42,0.8],[41,0.88],[39,0.95],[38,1.05],[36,1.1],[35,1.2],[33,1.28],[32,1.35],[30,1.42],[29,1.5],[27,1.55],[26,1.62],[24,1.7],[23,1.78],[21,1.85],[20,1.92],[19,1.98],[46,0.35],[43,0.5],[40,0.7],[37,0.85],[34,1.0],[31,1.18],[28,1.35],[25,1.48],[22,1.65],[18,1.7],[16,1.75]];
const satNormalRight3=[[100.1,0.41],[99.6,0.75],[98.9,0.09],[98.2,0.6],[97.5,0.21],[96.8,0.83],[96.0,0.5],[95.4,0.03],[94.6,0.68],[93.9,0.25],[93.1,0.9],[92.4,0.42],[91.6,0.1],[90.9,0.65],[90.1,0.34],[89.4,0.82],[88.6,0.5],[87.9,0.18],[87.1,0.93],[86.4,0.6],[85.6,0.12],[84.9,0.75],[84.1,0.27],[83.4,0.49],[82.6,0.02],[81.9,0.64],[81.1,0.31],[80.4,0.84],[79.6,0.2],[78.9,0.52],[78.1,0.96],[77.4,0.06],[76.6,0.67],[75.9,0.36],[75.1,0.9],[74.4,0.1],[73.6,0.55],[72.9,0.21],[72.1,0.78],[71.4,0.46],[70.6,0.02],[69.9,0.95],[69.1,0.6],[68.4,0.27],[67.6,0.75],[66.9,0.12],[66.1,0.46],[64.9,0.62],[63.6,0.1],[61.9,0.78],
[15.2,1.92],[17.1,1.93],[16.2,1.82],[18.1,1.83],[20.3,1.81],[18.2,1.7],[20.1,1.71],[19.3,1.6],[21.2,1.61],[23.1,1.59],[21.3,1.5],[23.2,1.51],[22.1,1.4],[24.3,1.41],[26.2,1.39],[24.1,1.3],[26.3,1.31],[26.2,1.2],[28.1,1.21],[30.3,1.19],[28.2,1.1],[30.1,1.11],[30.3,1.0],[32.2,1.01],[34.1,0.99],[32.3,0.9],[34.2,0.91],[34.1,0.8],[36.3,0.81],[38.2,0.79],[35.1,0.7],[37.3,0.71],[37.2,0.6],[39.1,0.61],[41.3,0.59],[39.2,0.5],[41.1,0.51],[41.3,0.4],[43.2,0.41],[45.1,0.39],[43.3,0.3],[45.2,0.31],[45.1,0.2],[47.3,0.21],[49.2,0.19],[47.1,0.1],[49.3,0.11],[50.2,0.03],[52.1,0.04],[54.3,0.02]];
const satCoreX=[-62,-57,-52,-47,-42,-37,-33,-29,-26,-23,-4.4,0,4.5,13,17,21,25,30,35,40,45,50];
const satCoreTop=[0,0.15,0.35,0.58,0.82,1.05,1.3,1.55,1.75,1.99,1.99,0.41,1.99,1.99,1.75,1.5,1.25,1.0,0.72,0.45,0.2,0];
const satDownCoreX=[-13.5,-11,-9,-7,-5], satDownCoreTop=[2.3,2.55,2.65,2.5,2.25];
const satUpCoreX=[5.5,7,9,11,13,15], satUpCoreTop=[2.2,2.5,2.55,2.45,2.3,2.1];

// ---------- drawing ----------
const RED='#ff0000', GREEN='#00ee00', GREY='#616161';
const FONT='"Liberation Sans", Arial, sans-serif';
const toPts=a=>a.map(p=>({x:p[0],y:p[1]}));
const curve=(xs,ys)=>xs.map((x,i)=>({x:x,y:ys[i]}));
function dots(a,c){return {type:'scatter',data:toPts(a),backgroundColor:c,borderWidth:0,pointRadius:3.3,pointHoverRadius:3.3};}
function area(xs,ys,c,fill){return {type:'line',data:curve(xs,ys),backgroundColor:c,borderColor:c,borderWidth:1,pointRadius:0,fill:fill,tension:0};}
function ghost(xs,ys){return {type:'line',data:curve(xs,ys),backgroundColor:'rgba(0,0,0,0)',borderColor:'rgba(0,0,0,0)',borderWidth:1,pointRadius:0,fill:false};}

const boxPlugin={id:'box',afterDatasetsDraw(ch){const c=ch.ctx,a=ch.chartArea;c.save();
 c.lineWidth=1;c.strokeStyle='#7a7a7a';c.beginPath();c.moveTo(a.left,a.top+0.5);c.lineTo(a.right+0.5,a.top+0.5);c.lineTo(a.right+0.5,a.bottom);c.stroke();
 c.strokeStyle='#333';c.beginPath();c.moveTo(a.left-0.5,a.top);c.lineTo(a.left-0.5,a.bottom+0.5);c.lineTo(a.right+0.5,a.bottom+0.5);c.stroke();c.restore();}};

function build(id,o){
 const ds=[dots(o.up,RED),dots(o.down,GREEN),dots(o.normal,GREY)];
 o.cores.forEach(k=>ds.push(area(k.x,k.top,k.color,{value:k.base})));
 if(o.bottom){ds.push(area(o.coreX,o.coreTop,GREY,'+1'));ds.push(ghost(o.coreX,o.bottom));}
 else ds.push(area(o.coreX,o.coreTop,GREY,'origin'));
 const tick={color:'#4d4d4d',font:{family:FONT,size:13},autoSkip:false,maxRotation:0,callback:v=>String(v)};
 const grid={display:true,drawOnChartArea:false,drawTicks:true,tickLength:4,color:'#333',lineWidth:1};
 new Chart(document.getElementById(id),{type:'scatter',data:{datasets:ds},plugins:[boxPlugin],options:{
  responsive:false,animation:false,devicePixelRatio:1,events:[],
  layout:{padding:{top:37,left:0,right:o.right,bottom:0}},
  plugins:{legend:{display:false},tooltip:{enabled:false}},
  scales:{
   x:{type:'linear',min:o.xr[0],max:o.xr[1],grid:grid,border:{display:false},ticks:Object.assign({},tick,{padding:3}),
      afterBuildTicks:s=>{s.ticks=o.xt.map(v=>({value:v}));},afterFit:s=>{s.height=50;},
      title:{display:true,text:'log2 Fold Change',color:'#1a1a1a',font:{family:FONT,size:17},padding:{top:0,bottom:7}}},
   y:{type:'linear',min:o.yr[0],max:o.yr[1],grid:grid,border:{display:false},ticks:Object.assign({},tick,{padding:3}),
      afterBuildTicks:s=>{s.ticks=o.yt.map(v=>({value:v}));},afterFit:s=>{s.width=o.yw;},
      title:{display:true,text:o.ylab,color:'#1a1a1a',font:{family:FONT,size:17},padding:{top:8,bottom:0}}}
  }}});
}

build('c1',{up:p1Up,down:p1Down,normal:p1Normal,
 cores:[{x:p1UpCoreX,top:p1UpCoreTop,color:RED,base:2.02},{x:p1DownCoreX,top:p1DownCoreTop,color:GREEN,base:2.02}],
 coreX:p1CoreX,coreTop:p1CoreTop,bottom:p1CoreBottom,
 xr:[-3.98,3.43],yr:[-0.74,16.0],xt:p1XTicks,yt:p1YTicks,yw:53,right:5,ylab:'-log10(adj.P.Val)'});
build('c2',{up:eatUp,down:eatDown,normal:eatNormalLeft.concat(eatNormalLeft2,eatNormalLeft3,eatNormalRight,eatNormalRight2,eatNormalRight3),cores:[],
 coreX:eatCoreX,coreTop:eatCoreTop,
 xr:[-110,110.5],yr:[-0.219,4.716],xt:p23XTicks,yt:p2YTicks,yw:47,right:5,ylab:'-log10(pvalue)'});
build('c3',{up:satUp,down:satDown,normal:satNormalLeft.concat(satNormalLeft2,satNormalLeft3,satNormalRight,satNormalRight2,satNormalRight3),
 cores:[{x:satUpCoreX,top:satUpCoreTop,color:RED,base:2.03},{x:satDownCoreX,top:satDownCoreTop,color:GREEN,base:2.03}],
 coreX:satCoreX,coreTop:satCoreTop,
 xr:[-110,110.5],yr:[-0.264,5.685],xt:p23XTicks,yt:p3YTicks,yw:48,right:7,ylab:'-log10(pvalue)'});
</script>
</body></html>
